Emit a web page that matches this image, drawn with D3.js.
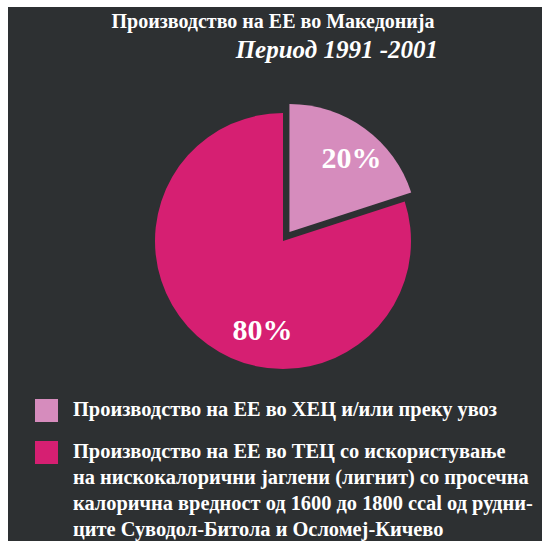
<!DOCTYPE html>
<html>
<head>
<meta charset="utf-8">
<script src="https://cdn.jsdelivr.net/npm/d3@7"></script>
<style>
  body { margin: 0; background: #fff; }
  text { font-family: "Liberation Serif", "Times New Roman", serif; font-weight: bold; fill: #fff; }
</style>
</head>
<body>
<div id="chart"></div>
<script>
// data
var categories = ["ХЕЦ", "ТЕЦ"];
var shares = [20, 80];
var sliceLabels = ["20%", "80%"];
var titleLines = ["Производство на ЕЕ во Македонија", "Период 1991 -2001"];
var legendLines = [
    ["Производство на ЕЕ во ХЕЦ и/или преку увоз"],
    ["Производство на ЕЕ во ТЕЦ со искористување",
     "на нискокалорични јаглени (лигнит) со просечна",
     "калорична вредност од 1600 до 1800 ccal од рудни-",
     "ците Суводол-Битола и Осломеј-Кичево"]
];

function init() {
    var w = 542;
    var h = 541;

    var svg = d3.select("#chart")
                .append("svg")
                .attr("width", w)
                .attr("height", h);

    //dark panel of the scan
    svg.append("rect")
        .attr("x", 8)
        .attr("y", 7)
        .attr("width", w - 8)
        .attr("height", h - 7)
        .attr("fill", "#2d3032");

    //colour per category
    var color = d3.scaleOrdinal()
                    .domain(categories)
                    .range(["#d68cbd", "#d61f72"]);

    //title
    svg.append("text")
        .attr("x", 273)
        .attr("y", 28)
        .attr("text-anchor", "middle")
        .style("font-size", "20px")
        .text(titleLines[0]);

    svg.append("text")
        .attr("x", 438)
        .attr("y", 58)
        .attr("text-anchor", "end")
        .style("font-size", "25px")
        .style("font-style", "italic")
        .text(titleLines[1]);

    //pie
    var r = 128;
    var cx = 283, cy = 241;
    var explode = 11;

    var pie = d3.pie().sort(null).value(function(d){ return d; });
    var arcs = pie(shares);

    var arc = d3.arc().innerRadius(0).outerRadius(r);

    var g = svg.append("g")
                .attr("transform", "translate(" + cx + "," + cy + ")");

    //only the small slice is pulled out
    var offset = function(d, i) {
        if (i != 0) return [0, 0];
        var mid = (d.startAngle + d.endAngle) / 2;
        return [Math.sin(mid) * explode, -Math.cos(mid) * explode];
    };

    g.selectAll("path")
        .data(arcs)
        .enter()
        .append("path")
        .attr("d", arc)
        .attr("transform", function(d, i){
            var o = offset(d, i);
            return "translate(" + o[0] + "," + o[1] + ")";
        })
        .attr("fill", function(d, i){ return color(categories[i]); });

    //labels - where along each slice the text sits
    var labelFrac = [0.55, 0.42];
    var labelR = [0.76 * r, 0.71 * r];

    g.selectAll(".lbl")
        .data(arcs)
        .enter()
        .append("text")
        .attr("class", "lbl")
        .attr("transform", function(d, i){
            var a = d.startAngle + (d.endAngle - d.startAngle) * labelFrac[i];
            var o = offset(d, i);
            var x = Math.sin(a) * labelR[i] + o[0];
            var y = -Math.cos(a) * labelR[i] + o[1];
            return "translate(" + x + "," + y + ")";
        })
        .attr("text-anchor", "middle")
        .attr("dy", "0.35em")
        .style("font-size", "30px")
        .text(function(d, i){ return sliceLabels[i]; });

    //legend
    var legendTop = [399, 441];
    var legend = svg.selectAll(".legend")
                    .data(categories)
                    .enter()
                    .append("g")
                    .attr("class", "legend")
                    .attr("transform", function(d, i){ return "translate(35," + legendTop[i] + ")"; });

    legend.append("rect")
        .attr("width", 23)
        .attr("height", 23)
        .attr("fill", function(d){ return color(d); });

    legend.append("text")
        .attr("x", 38)
        .attr("y", 17)
        .style("font-size", "20.4px")
        .selectAll("tspan")
        .data(function(d, i){ return legendLines[i]; })
        .enter()
        .append("tspan")
        .attr("x", 38)
        .attr("dy", function(d, i){ return i == 0 ? 0 : 26; })
        .text(function(d){ return d; });
}

window.onload = init;
</script>
</body>
</html>
